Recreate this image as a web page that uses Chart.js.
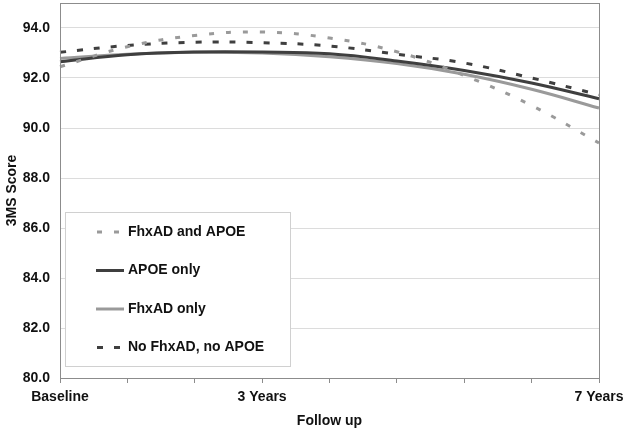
<!DOCTYPE html>
<html>
<head>
<meta charset="utf-8">
<script src="https://cdn.jsdelivr.net/npm/chart.js@4.4.1/dist/chart.umd.min.js"></script>
<style>
  body { margin: 0; background: #fff; }
  #wrap { width: 626px; height: 431px; position: relative; }
</style>
</head>
<body>
<div id="wrap"><canvas id="scoreChart" width="626" height="431"></canvas></div>
<script>
// follow-up points (only three are labelled on the axis)
const followUp = ['Baseline', '', '', '3 Years', '', '', '', '', '7 Years'];

const fhxAndApoe = [92.45, 93.25, 93.7, 93.84, 93.6, 93.05, 92.1, 90.9, 89.4];
const apoeOnly   = [92.65, 92.93, 93.04, 93.04, 92.97, 92.68, 92.3, 91.8, 91.17];
const fhxOnly    = [92.78, 92.95, 93.03, 93.0, 92.85, 92.58, 92.15, 91.55, 90.8];
const neither    = [93.03, 93.3, 93.43, 93.41, 93.28, 92.95, 92.6, 92.0, 91.33];

const seriesNames = ['FhxAD and APOE', 'APOE only', 'FhxAD only', 'No FhxAD, no APOE'];
const yTicks = [80, 82, 84, 86, 88, 90, 92, 94, 95];

const dark = '#3f3f3f';
const light = '#9a9a9a';
const font = { family: '"Liberation Sans", Arial, sans-serif', size: 14, weight: 'bold' };

// box around the plot + the legend drawn inside it
const framePlugin = {
  id: 'frame',
  afterDraw(chart) {
    const ctx = chart.ctx;
    const a = chart.chartArea;
    ctx.save();
    ctx.strokeStyle = '#8c8c8c';
    ctx.lineWidth = 1;
    ctx.strokeRect(a.left + 0.5, a.top + 0.5, a.right - a.left, a.bottom - a.top);

    // legend
    const bx = 65, by = 212, bw = 225, bh = 154;
    ctx.fillStyle = '#fff';
    ctx.fillRect(bx, by, bw, bh);
    ctx.strokeStyle = '#d0d0d0';
    ctx.strokeRect(bx + 0.5, by + 0.5, bw, bh);
    ctx.font = 'bold 14px "Liberation Sans", Arial, sans-serif';
    ctx.textBaseline = 'middle';
    chart.data.datasets.forEach((ds, i) => {
      const y = 232 + i * 38.5;
      ctx.strokeStyle = ds.borderColor;
      ctx.lineWidth = 3;
      ctx.setLineDash(ds.borderDash || []);
      ctx.beginPath();
      ctx.moveTo(ds.borderDash ? 97 : 96, y);
      ctx.lineTo(124, y);
      ctx.stroke();
      ctx.setLineDash([]);
      ctx.fillStyle = '#111';
      ctx.fillText(ds.label, 128, y);
    });
    ctx.restore();
  }
};

new Chart(document.getElementById('scoreChart'), {
  type: 'line',
  data: {
    labels: followUp,
    datasets: [
      { label: seriesNames[0], data: fhxAndApoe, borderColor: light, borderDash: [5, 12] },
      { label: seriesNames[1], data: apoeOnly, borderColor: dark },
      { label: seriesNames[2], data: fhxOnly, borderColor: light },
      { label: seriesNames[3], data: neither, borderColor: dark, borderDash: [6, 11] }
    ].map(d => Object.assign(d, { borderWidth: 3, pointRadius: 0, tension: 0.4, fill: false }))
  },
  options: {
    responsive: false,
    animation: false,
    layout: { padding: { top: 3, right: 27, left: 4, bottom: 1 } },
    plugins: { legend: { display: false }, tooltip: { enabled: false } },
    scales: {
      x: {
        offset: false,
        afterFit(axis) { axis.height = 52; axis.paddingLeft = 0; axis.paddingRight = 0; },
        grid: { drawOnChartArea: false, drawTicks: true, tickLength: 5, color: '#8c8c8c' },
        border: { color: '#8c8c8c' },
        ticks: { color: '#111', font: font, maxRotation: 0, autoSkip: false, padding: 6 },
        title: { display: true, text: 'Follow up', color: '#111', font: font, padding: { top: 4, bottom: 0 } }
      },
      y: {
        min: 80,
        max: 95,
        afterBuildTicks(axis) { axis.ticks = yTicks.map(v => ({ value: v })); },
        afterFit(axis) { axis.width = 56; axis.paddingTop = 0; axis.paddingBottom = 0; },
        grid: { color: ctx => ctx.tick && ctx.tick.value === 95 ? 'rgba(0,0,0,0)' : '#dcdcdc', drawTicks: false },
        border: { color: '#8c8c8c' },
        ticks: { color: '#111', font: font, padding: 10, callback: v => v === 95 ? '' : v.toFixed(1) },
        title: { display: true, text: '3MS Score', color: '#111', font: font, padding: { top: 0, bottom: 0 } }
      }
    }
  },
  plugins: [framePlugin]
});
</script>
</body>
</html>
